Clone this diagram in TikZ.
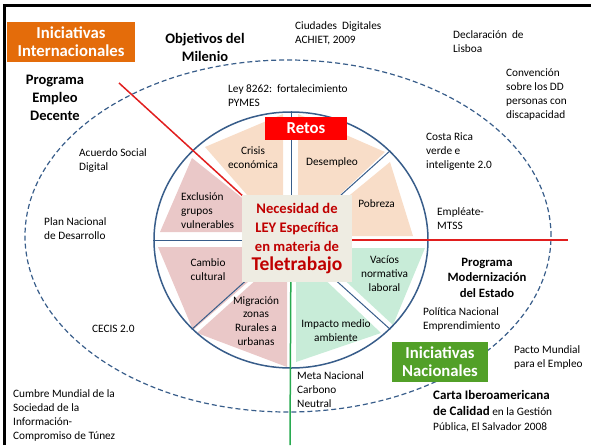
\documentclass[tikz,border=0pt]{standalone}
\usepackage{fontspec}
\setmainfont{Carlito}
\usepackage{xcolor}
\usetikzlibrary{shapes.geometric}

\definecolor{wblue}{RGB}{56,93,138}
\definecolor{peach}{RGB}{248,221,200}
\definecolor{rose}{RGB}{234,200,200}
\definecolor{mint}{RGB}{200,236,216}
\definecolor{boxbg}{RGB}{238,236,226}
\definecolor{darkred}{RGB}{192,0,0}
\definecolor{tagorange}{RGB}{228,108,10}
\definecolor{taggreen}{RGB}{82,160,40}
\definecolor{lred}{RGB}{225,30,30}
\definecolor{lgreen}{RGB}{40,170,80}

\begin{document}
\begin{tikzpicture}[
  x=1pt,y=-1pt,
  lbl/.style={inner sep=0pt,anchor=west,align=left,font=\fontsize{11.3}{14}\selectfont},
  sec/.style={inner sep=0pt,align=center,font=\fontsize{11.3}{13.8}\selectfont},
  ttl/.style={inner sep=0pt,align=center,font=\fontsize{14.5}{18}\selectfont\bfseries},
  tag/.style={inner sep=0pt,align=center,text=white,font=\fontsize{16.7}{18}\selectfont\bfseries},
  div/.style={draw=wblue,line width=1pt}
]
\useasboundingbox (0,0) rectangle (591,445);
\draw[line width=3pt] (4,445) -- (4,5.5) -- (591,5.5);

% outer ring
\node[ellipse,draw=wblue,line width=1.2pt,dash pattern=on 5pt off 3pt,inner sep=0pt,
  minimum width=526pt,minimum height=352pt] (ring) at (288,236) {};

% slices
\fill[peach] (205,147) -- (283,114) -- (283,236) -- cycle;
\fill[peach] (298,114) -- (385,152) -- (298,234) -- cycle;
\fill[peach] (390,162) -- (413,236) -- (300,236) -- cycle;
\fill[mint] (310,248) -- (425,248) -- (393,325) -- cycle;
\fill[mint] (296,252) -- (381,333) -- (296,362) -- cycle;
\fill[rose] (197,333) -- (287,252) -- (287,367) -- cycle;
\fill[rose] (158,247) -- (288,247) -- (193,330) -- cycle;
\fill[rose] (192,158) -- (160,232) -- (285,232) -- cycle;

% wheel and dividers
\node[ellipse,draw=wblue,line width=1.5pt,inner sep=0pt,
  minimum width=274pt,minimum height=256pt] (wheel) at (291,240) {};
\coordinate (c) at (291,240);
\coordinate (redNW) at (119,83);
\coordinate (redE) at (568,240);
\coordinate (greenS) at (290,445);
\draw[div] (c) -- (wheel.north);
\draw[div] (c) -- (wheel.west);
\draw[div] (c) -- (wheel.42);
\draw[div] (c) -- (wheel.222);
\draw[div] (c) -- (wheel.318);
\draw[lred,line width=1.5pt] (c) -- (redNW);
\draw[lred,line width=1.5pt] (c) -- (redE);
\draw[lgreen,line width=1.5pt] (c) -- (greenS);

% centre and tags
\node[fill=boxbg,minimum width=110pt,minimum height=87pt,inner sep=0pt,align=center,
  text=darkred,font=\fontsize{14.6}{18.7}\selectfont\bfseries] (ley) at (297,238.5)
  {Necesidad de\\LEY Específica\\en materia de\\{\fontsize{19.5}{20}\selectfont Teletrabajo}};
\node[tag,fill=red,minimum width=82pt,minimum height=23pt] (retos) at (306,128.5) {Retos};
\node[tag,fill=tagorange,minimum width=128pt,minimum height=40pt] (intl) at (71,42)
  {Iniciativas\\Internacionales};
\node[tag,fill=taggreen,minimum width=96pt,minimum height=40pt] (nac) at (440,362)
  {Iniciativas\\Nacionales};

% slice labels
\node[sec] (crisis) at (253,157.5) {Crisis\\económica};
\node[sec] (desempleo) at (332,162) {Desempleo};
\node[sec] (pobreza) at (376.5,204) {Pobreza};
\node[lbl] (exclusion) at (181,211) {Exclusión\\grupos\\vulnerables};
\node[sec] (cambio) at (208,269.5) {Cambio\\cultural};
\node[sec] (migracion) at (256,321) {Migración\\zonas\\Rurales a\\urbanas};
\node[sec] (vacios) at (384.5,273.5) {Vacíos\\normativa\\laboral};
\node[sec] (impacto) at (336,330.5) {Impacto medio\\ambiente};

% titles
\node[ttl] (objetivos) at (205,47.5) {Objetivos del\\Milenio};
\node[ttl] (empleo) at (55,98) {Programa\\Empleo\\Decente};
\node[ttl,font=\fontsize{12.7}{15.5}\selectfont\bfseries] (moderniza) at (487,277.5)
  {Programa\\Modernización\\del Estado};

% initiatives
\node[lbl] (ciudades) at (295,33) {Ciudades~~Digitales\\ACHIET, 2009};
\node[lbl] (lisboa) at (453,42) {Declaración~~de\\Lisboa};
\node[lbl] (convencion) at (506,95) {Convención\\sobre los DD\\personas con\\discapacidad};
\node[lbl] (pymes) at (228,95.5) {Ley 8262:~~fortalecimiento\\PYMES};
\node[lbl] (acuerdo) at (79,161) {Acuerdo Social\\Digital};
\node[lbl] (costarica) at (426,152) {Costa Rica\\verde e\\inteligente 2.0};
\node[lbl] (empleate) at (437,219) {Empléate-\\MTSS};
\node[lbl] (plan) at (44,229) {Plan Nacional\\de Desarrollo};
\node[lbl] (cecis) at (92,329) {CECIS 2.0};
\node[lbl] (cumbre) at (13,415.5) {Cumbre Mundial de la\\Sociedad de la\\Información-\\Compromiso de Túnez};
\node[lbl] (politica) at (423,319.5) {Política Nacional\\Emprendimiento};
\node[lbl] (pacto) at (514,357) {Pacto Mundial\\para el Empleo};
\node[lbl] (meta) at (297,389.5) {Meta Nacional\\Carbono\\Neutral};
\node[lbl,font=\fontsize{11.3}{15.5}\selectfont] (carta) at (433,411.5)
  {{\fontsize{13}{15.5}\selectfont\bfseries Carta Iberoamericana}\\{\fontsize{13}{15.5}\selectfont\bfseries de Calidad} en la Gestión\\Pública, El Salvador 2008};
\end{tikzpicture}
\end{document}
